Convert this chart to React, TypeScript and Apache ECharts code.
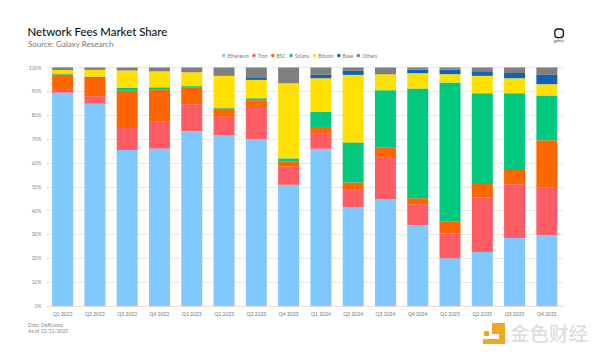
import React, { useEffect, useRef } from "react";
import * as echarts from "echarts";

const categories = ["Q1 2022","Q2 2022","Q3 2022","Q4 2022","Q1 2023","Q2 2023","Q3 2023","Q4 2023","Q1 2024","Q2 2024","Q3 2024","Q4 2024","Q1 2025","Q2 2025","Q3 2025","Q4 2025"];
const ethereum = [89.4,84.8,65.4,66.0,73.2,71.5,70.0,50.8,65.9,41.5,44.8,33.9,20.0,22.6,28.5,29.7];
const tron = [1.5,3.2,9.2,11.2,11.4,7.8,13.0,7.6,6.3,7.5,17.7,8.8,10.4,22.9,22.5,19.9];
const bsc = [6.2,7.6,15.6,13.7,6.9,3.5,3.3,2.1,2.9,2.8,3.8,2.5,4.9,5.7,6.0,19.9];
const solana = [0.4,0.6,1.3,0.8,0.7,0.4,0.8,1.4,6.3,16.8,24.2,46.0,58.4,38.0,32.2,18.8];
const bitcoin = [1.5,2.8,7.2,6.7,5.8,13.3,7.7,31.5,14.1,28.3,6.7,6.4,3.5,7.3,6.3,4.7];
const base = [0,0,0,0,0,0,0.8,0,1.4,1.7,0.4,1.5,1.9,1.6,2.2,3.9];
const others = [1.0,1.0,1.3,1.6,2.0,3.5,4.4,6.6,3.1,1.4,2.4,0.9,0.9,1.9,2.3,3.1];

const seriesNames = ["Ethereum","Tron","BSC","Solana","Bitcoin","Base","Others"];
const seriesValues = [ethereum,tron,bsc,solana,bitcoin,base,others];
const seriesColors = ["#7FC9FF","#FF5C66","#FF6600","#00C87F","#FFE000","#0F62B8","#7F7F7F"];
const yTicks = 10;

const title = "Network Fees Market Share";
const subtitle = "Source: Galaxy Research";
const footnote1 = "Data: DefiLlama";
const footnote2 = "As of 12/31/2025";
const brand = "galaxy";
const watermark = "金色财经";

export default function App() {
  const ref = useRef<HTMLDivElement>(null);
  useEffect(() => {
    document.body.style.margin = "0";
    const chart = echarts.init(ref.current!, null, { renderer: "svg" });
    chart.setOption({
      animation: false,
      backgroundColor: "#fff",
      textStyle: { fontFamily: "Lato" },
      legend: {
        top: 53,
        left: 222,
        data: seriesNames,
        icon: "circle",
        itemWidth: 3.5,
        itemHeight: 3.5,
        itemGap: 3.5,
        padding: 0,
        textStyle: { fontSize: 5, color: "#777", padding: [0, 0, 0, -3] },
      },
      grid: { left: 46.5, right: 37, top: 67.5, bottom: 49 },
      xAxis: {
        type: "category",
        data: categories,
        axisTick: { show: false },
        axisLine: { lineStyle: { color: "#F3D9CC", width: 1 } },
        axisLabel: { fontSize: 5, color: "#777", margin: 5, interval: 0 },
      },
      yAxis: {
        type: "value",
        min: 0,
        max: 100,
        interval: yTicks,
        axisLabel: { fontSize: 5, color: "#888", formatter: "{value}%", margin: 5 },
        axisLine: { show: false },
        axisTick: { show: false },
        splitLine: { lineStyle: { color: "#E8E8E8", width: 1 } },
      },
      series: seriesNames.map((name, i) => ({
        name,
        type: "bar",
        stack: "share",
        barWidth: 21,
        data: seriesValues[i],
        itemStyle: { color: seriesColors[i] },
      })),
      graphic: [
        { type: "text", left: 27.5, top: 26, style: { text: title, fontFamily: "Lato", fontSize: 11.4, fontWeight: 500, fill: "#111" } },
        { type: "text", left: 28, top: 40, style: { text: subtitle, fontFamily: "Lato", fontSize: 8, fill: "#777" } },
        { type: "text", left: 28, top: 322, style: { text: footnote1, fontFamily: "Lato", fontSize: 5, fill: "#888" } },
        { type: "text", left: 28, top: 328.5, style: { text: footnote2, fontFamily: "Lato", fontSize: 5, fill: "#888" } },
        { type: "rect", shape: { x: 554.8, y: 29, width: 8.6, height: 8.6, r: 3 }, style: { fill: "none", stroke: "#111", lineWidth: 1.3 } },
        { type: "text", left: 554, top: 39.5, style: { text: brand, fontFamily: "Inter", fontSize: 3.2, fill: "#333" } },
        { type: "polygon", shape: { points: [[492, 323], [505, 323], [505, 344], [483, 344], [483, 339], [499, 339], [499, 334], [492, 334]] }, style: { fill: "#F0A91E" } },
        { type: "rect", shape: { x: 484, y: 331, width: 5, height: 5, r: 1 }, style: { fill: "#F0A91E" } },
        { type: "text", left: 510, top: 323, style: { text: watermark, fontFamily: "Noto Sans CJK SC", fontSize: 19.5, fontWeight: 500, fill: "#DEDEDE" } },
      ],
    });
    return () => chart.dispose();
  }, []);
  return <div ref={ref} style={{ width: 600, height: 355 }} />;
}
